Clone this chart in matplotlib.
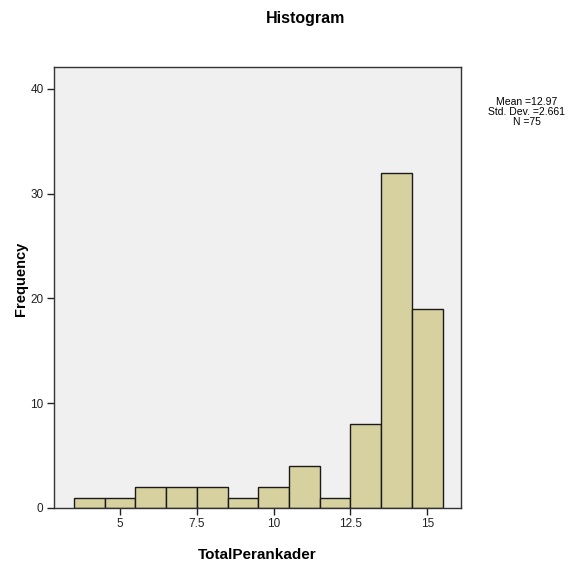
import matplotlib
matplotlib.use("Agg")
import matplotlib.pyplot as plt
import numpy as np

bin_centers = [4, 5, 6, 7, 8, 9, 10, 11, 12, 13, 14, 15]
frequencies = [1, 1, 2, 2, 2, 1, 2, 4, 1, 8, 32, 19]
x_ticks = [5, 7.5, 10, 12.5, 15]
x_tick_labels = ["5", "7.5", "10", "12.5", "15"]
y_ticks = [0, 10, 20, 30, 40]
stats_text = "Mean =12.97\nStd. Dev. =2.661\nN =75"

plt.rcParams['font.family'] = ['Liberation Sans', 'DejaVu Sans']

fig = plt.figure(figsize=(5.88, 5.67), dpi=100)
ax = fig.add_axes([54/588, 1-508/567, 407/588, 441/567])
ax.set_facecolor('#F0F0F0')

ax.bar(bin_centers, frequencies, width=1.0, color='#D6D19E', edgecolor='#1a1a1a', linewidth=1.0, align='center')

ax.set_xlim(2.85, 16.1)
ax.set_ylim(0, 42.1)
ax.set_xticks(x_ticks)
ax.set_xticklabels(x_tick_labels)
ax.set_yticks(y_ticks)
ax.tick_params(axis='both', direction='out', length=5, width=1, labelsize=8.5, pad=2.5,
               color='#222222', labelcolor='#222222')
for s in ax.spines.values():
    s.set_color('#333333')
    s.set_linewidth(1.0)

ax.set_xlabel('TotalPerankader', fontsize=11, fontweight='bold')
ax.set_ylabel('Frequency', fontsize=10.5, fontweight='bold')
ax.xaxis.set_label_coords(0.5, -(555 - 508) / 441)
ax.yaxis.set_label_coords((21 - 54) / 407, (508 - 279) / 441)
ax.xaxis.label.set_va('center')
ax.yaxis.label.set_va('center')

fig.text(306/588, 1-19/567, 'Histogram', ha='center', va='center', fontsize=11.5, fontweight='bold')
fig.text(527/588, 1-112/567, stats_text, ha='center', va='center', fontsize=7.5, linespacing=1.05)

fig.savefig('out.png', dpi=100)
